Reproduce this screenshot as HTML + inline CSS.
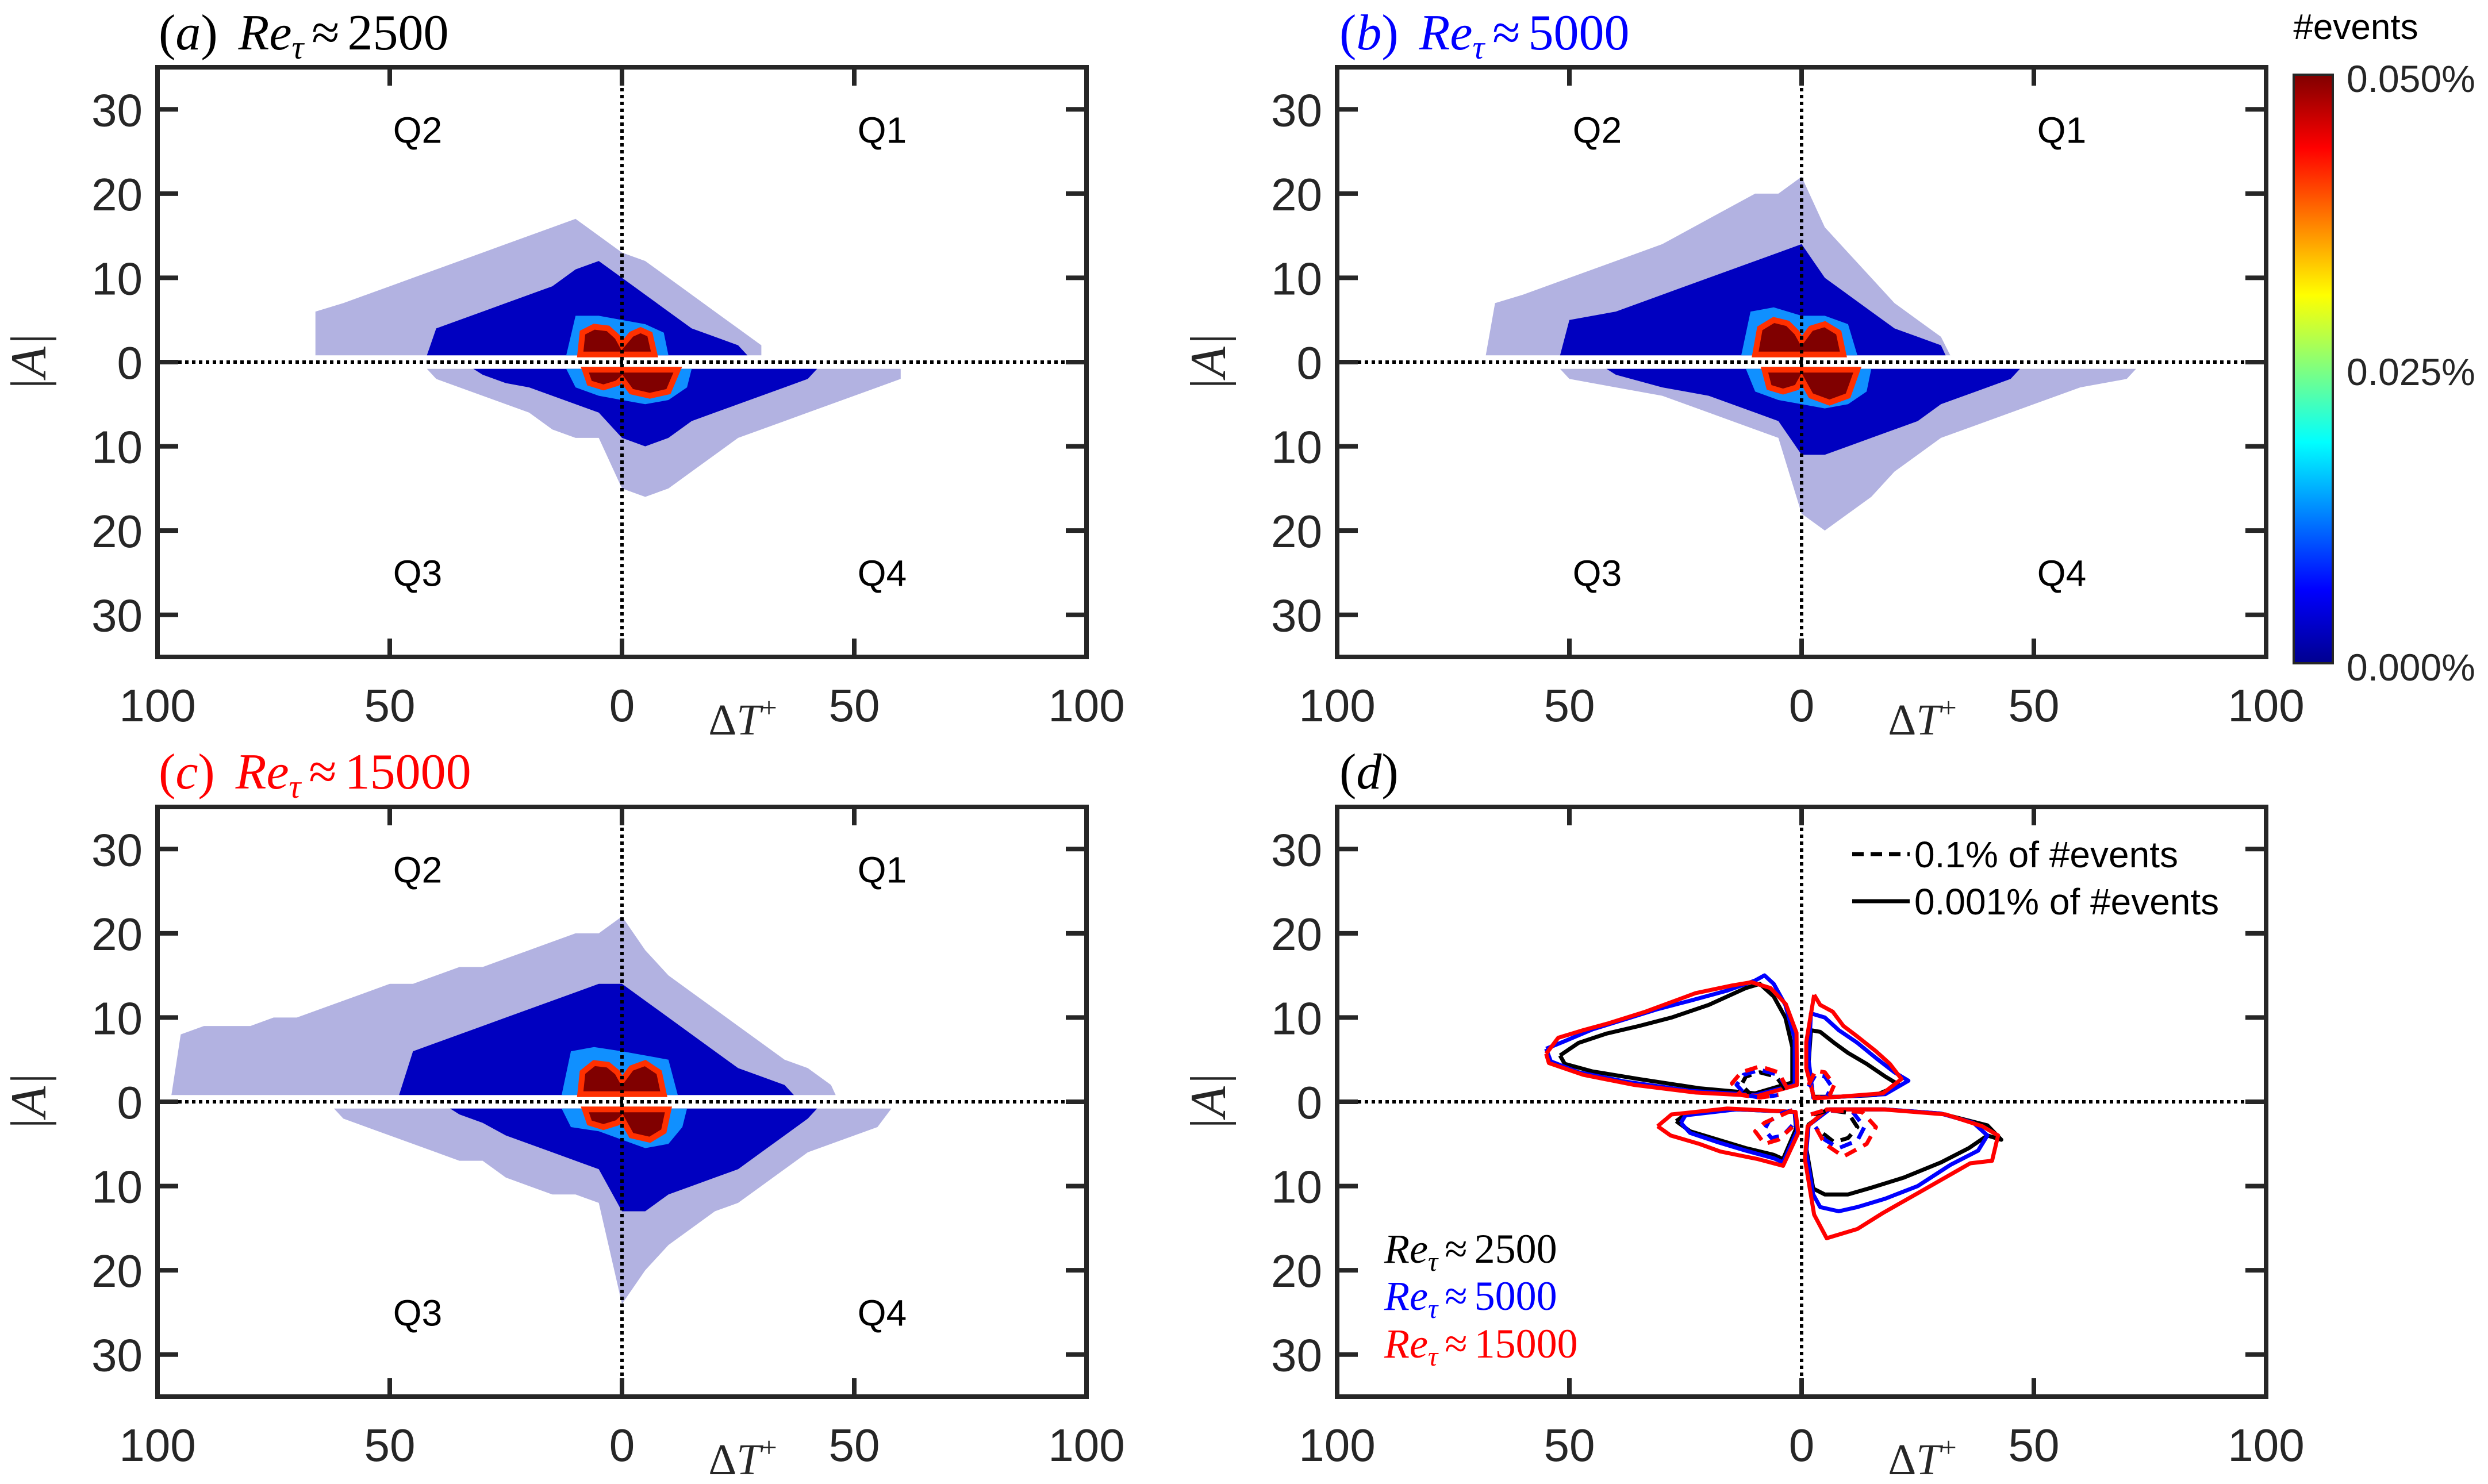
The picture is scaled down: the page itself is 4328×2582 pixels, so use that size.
<!DOCTYPE html>
<html><head><meta charset="utf-8">
<style>
html,body{margin:0;padding:0;background:#fff;}
svg{display:block;}
</style></head>
<body>
<svg id="fig" width="4328" height="2582" viewBox="0 0 4328 2582" xmlns="http://www.w3.org/2000/svg">
<defs>
<linearGradient id="jet" x1="0" y1="1" x2="0" y2="0">
<stop offset="0" stop-color="#00008f"/><stop offset="0.125" stop-color="#0000ff"/>
<stop offset="0.375" stop-color="#00ffff"/><stop offset="0.625" stop-color="#ffff00"/>
<stop offset="0.875" stop-color="#ff0000"/><stop offset="1" stop-color="#800000"/>
</linearGradient>
</defs>
<g id="layer"></g>
<g>
<rect x="3990" y="130" width="68" height="1024" fill="url(#jet)" stroke="#262626" stroke-width="4"/>
<text x="4098" y="68" font-family="Liberation Sans, sans-serif" font-size="62" text-anchor="middle" fill="#000">#events</text>
<text x="4082" y="160" font-family="Liberation Sans, sans-serif" font-size="66" fill="#262626">0.050%</text>
<text x="4082" y="670" font-family="Liberation Sans, sans-serif" font-size="66" fill="#262626">0.025%</text>
<text x="4082" y="1184" font-family="Liberation Sans, sans-serif" font-size="66" fill="#262626">0.000%</text>
</g>
</svg>
<script>
// ---- data (ΔT signed: negative = left; A signed: positive = upper) ----
const xTicks = [-100,-50,0,50,100];
const xTickLabels = ["100","50","0","50","100"];
const yTicks = [30,20,10,0,-10,-20,-30];
const yTickLabels = ["30","20","10","0","10","20","30"];

const aUpSparse = [[-66,0.8],[-66,6],[-60,7],[-55,8],[-50,9],[-45,10],[-40,11],[-35,12],[-30,13],[-25,14],[-20,15],[-15,16],[-10,17],[-5,15],[0,13],[5,12],[10,10],[15,8],[20,6],[25,4],[30,2],[30,0.8]];
const aUpDense = [[-42,0.8],[-40,4],[-35,5],[-30,6],[-25,7],[-20,8],[-15,9],[-10,11],[-5,12],[0,10],[5,8],[10,6],[15,4],[20,3],[25,2],[27,0.8]];
const aUpMid = [[-12,0.8],[-10,5.5],[-5,5.5],[0,5],[5,4.5],[9,3.5],[10,0.8]];
const aUpCore = [[-9,0.9],[-8.5,3.5],[-6,4.2],[-3,4],[-1,3],[0,2],[2,3.3],[4,3.8],[6,3.3],[7,0.9]];
const aLoSparse = [[-42,-0.8],[-40,-2],[-35,-3],[-30,-4],[-25,-5],[-20,-6],[-15,-8],[-10,-9],[-5,-9],[0,-15],[5,-16],[10,-15],[15,-13],[20,-11],[25,-9],[30,-8],[35,-7],[40,-6],[45,-5],[50,-4],[55,-3],[60,-2],[60,-0.8]];
const aLoDense = [[-32,-0.8],[-30,-1.5],[-25,-2.5],[-20,-3],[-15,-4],[-10,-5],[-5,-6],[0,-9],[5,-10],[10,-9],[15,-7],[20,-6],[25,-5],[30,-4],[35,-3],[40,-2],[42,-0.8]];
const aLoMid = [[-12,-0.8],[-10,-3],[-5,-4],[0,-4.5],[5,-5],[10,-4.5],[14,-3],[15,-0.8]];
const aLoCore = [[-8,-0.9],[-7,-2.5],[-4,-3],[-1,-2.5],[0,-2],[2,-3.5],[6,-4],[10,-3.5],[12,-0.9]];

const bUpSparse = [[-68,0.8],[-66,7],[-60,8],[-50,10],[-40,12],[-30,14],[-20,17],[-10,20],[-5,20],[0,22],[5,16],[10,13],[15,10],[20,7],[25,5],[30,3],[32,0.8]];
const bUpDense = [[-52,0.8],[-50,5],[-40,6],[-30,8],[-20,10],[-15,11],[-10,12],[-5,13],[0,14],[5,10],[10,8],[15,6],[20,4],[25,3],[30,2],[31,0.8]];
const bUpMid = [[-13,0.8],[-11,6],[-6,6.5],[0,5.5],[5,5.5],[10,4.5],[12,0.8]];
const bUpCore = [[-10,0.9],[-9,4],[-6,5],[-3,4.6],[-1,3.5],[0,2.5],[2,4],[5,4.5],[8,3.5],[9,0.9]];
const bLoSparse = [[-52,-0.8],[-50,-2],[-40,-3],[-30,-4],[-20,-6],[-10,-8],[-5,-9],[0,-18],[5,-20],[10,-18],[15,-16],[20,-13],[25,-11],[30,-9],[40,-7],[50,-5],[60,-3],[70,-2],[72,-0.8]];
const bLoDense = [[-42,-0.8],[-40,-1.5],[-30,-3],[-20,-4],[-10,-6],[-5,-7],[0,-11],[5,-11],[10,-10],[15,-9],[20,-8],[25,-7],[30,-5],[35,-4],[40,-3],[45,-2],[47,-0.8]];
const bLoMid = [[-12,-0.8],[-10,-3.5],[-5,-4.5],[0,-5],[5,-5.5],[10,-5],[14,-3.5],[15,-0.8]];
const bLoCore = [[-8,-0.9],[-7,-3],[-4,-3.5],[-1,-3],[0,-2],[2,-4],[6,-4.8],[10,-4],[12,-0.9]];

const cUpSparse = [[-97,0.8],[-95,8],[-90,9],[-80,9],[-75,10],[-70,10],[-65,11],[-60,12],[-55,13],[-50,14],[-45,14],[-40,15],[-35,16],[-30,16],[-25,17],[-20,18],[-15,19],[-10,20],[-5,20],[0,22],[5,18],[10,15],[15,13],[20,11],[25,9],[30,7],[35,5],[40,4],[45,2],[46,0.8]];
const cUpDense = [[-48,0.8],[-45,6],[-40,7],[-35,8],[-30,9],[-25,10],[-20,11],[-15,12],[-10,13],[-5,14],[0,14],[5,12],[10,10],[15,8],[20,6],[25,4],[30,3],[35,2],[37,0.8]];
const cUpMid = [[-13,0.8],[-11,6],[-6,6.5],[0,6],[5,5.5],[10,5],[12,0.8]];
const cUpCore = [[-9,0.9],[-8.5,3.5],[-6,4.6],[-3,4.4],[-1,3.5],[0,2.5],[2,4],[5,4.6],[8,3.5],[9,0.9]];
const cLoSparse = [[-62,-0.8],[-60,-2],[-55,-3],[-50,-4],[-45,-5],[-40,-6],[-35,-7],[-30,-7],[-25,-9],[-20,-10],[-15,-11],[-10,-11],[-5,-12],[0,-24],[5,-20],[10,-17],[15,-15],[20,-13],[25,-12],[30,-10],[35,-8],[40,-6],[45,-5],[50,-4],[55,-3],[58,-0.8]];
const cLoDense = [[-37,-0.8],[-35,-1.5],[-30,-2.5],[-25,-4],[-20,-5],[-15,-6],[-10,-7],[-5,-8],[0,-13],[5,-13],[10,-11],[15,-10],[20,-9],[25,-8],[30,-6],[35,-4],[40,-2],[42,-0.8]];
const cLoMid = [[-13,-0.8],[-11,-3],[-5,-3.5],[0,-4.5],[5,-5.5],[10,-5],[13,-3],[14,-0.8]];
const cLoCore = [[-8,-0.9],[-7,-2.5],[-4,-3],[-1,-2.5],[0,-2],[2,-4],[6,-4.5],[9,-3.5],[10,-0.9]];

// panel (d) contours
const redUL = [[-55,5.7],[-52.4,7.6],[-47,8.5],[-41.7,9.3],[-33.6,10.7],[-22.8,12.9],[-15,13.8],[-10.8,14.2],[-6.7,13.5],[-3.4,11.6],[-1.1,8.2],[-1,2],[-9.4,0.7],[-22.8,1.1],[-36,2],[-47,3.2],[-54.4,4.6],[-55,5.7]];
const blueUL = [[-55,6.3],[-51,7.2],[-45,8.6],[-38,9.8],[-31,11],[-24,12],[-16,13.2],[-10,14.4],[-8,15],[-6,14],[-3.5,11.5],[-1.5,7.5],[-1.5,2],[-10,0.8],[-24,1.3],[-38,2.4],[-48,3.5],[-54,4.8],[-55,6.3]];
const blackUL = [[-52,5.5],[-48,7],[-42,8.1],[-35,9],[-28,10],[-20,11.5],[-12,13.5],[-9,14],[-6,12.5],[-3.5,10],[-2,6.5],[-2,2.3],[-10,1],[-22,1.6],[-35,2.7],[-45,3.6],[-51,4.5],[-52,5.5]];
const redUR = [[2.7,12.7],[4,11.5],[6.7,10.7],[9,9],[12.1,7.7],[16,6],[19,4.5],[21.5,2.7],[17.5,1],[8,0.6],[2.7,0.4],[1,4],[1,7.1],[2.7,12.7]];
const blueUR = [[2,10.5],[5,10],[8,8.5],[12,7],[16,5.2],[20,3.5],[23,2.5],[18,0.9],[8,0.6],[2.5,0.5],[1.5,5],[2,10.5]];
const blackUR = [[2,8.5],[4,8.3],[7,7],[10,5.8],[14,4.5],[18,3],[21,2],[16,0.8],[8,0.6],[2.5,0.6],[1.5,4.5],[2,8.5]];
const redLL = [[-31,-2.9],[-28.2,-4],[-22,-5],[-17.5,-5.9],[-9.4,-6.8],[-4,-7.6],[-0.7,-3.7],[-1.3,-1.2],[-16,-0.8],[-28,-1.5],[-31,-2.9]];
const blueLL = [[-26,-2.5],[-24,-3.7],[-18,-4.8],[-12,-5.8],[-6,-6.7],[-4,-7.2],[-1,-3.5],[-1.5,-1.2],[-14,-0.9],[-25,-1.6],[-26,-2.5]];
const blackLL = [[-27,-2.3],[-24,-3.5],[-18,-4.5],[-12,-5.5],[-6,-6.3],[-4,-6.8],[-1.2,-3.2],[-1.5,-1.2],[-14,-0.9],[-25,-1.5],[-27,-2.3]];
const redLR = [[0.7,-6.8],[2.7,-13.4],[5.4,-16.2],[12,-15.1],[17.5,-13.2],[25.5,-10.7],[36.3,-7.3],[41,-7],[42.3,-4],[38.9,-2.9],[31,-1.5],[17.5,-0.9],[5.4,-0.9],[1.3,-2.9],[0.7,-6.8]];
const blueLR = [[1,-6],[2.5,-11],[4,-12.5],[8,-13],[12,-12.5],[18,-11.5],[25,-10],[32,-7.5],[38,-5.8],[40,-4],[37,-2.5],[30,-1.4],[18,-0.9],[6,-0.9],[1.5,-2.8],[1,-6]];
const blackLR = [[1,-5.5],[2.5,-10.3],[5,-11],[10,-11],[15,-10.2],[22,-9],[30,-7.2],[36,-5.5],[40,-4],[43,-4.5],[40,-2.8],[30,-1.4],[18,-0.9],[6,-0.9],[1.5,-2.7],[1,-5.5]];
const redDUL = [[-3,1.5],[-5,3.5],[-9,4.2],[-13,3.5],[-15,2.2],[-13,0.8],[-9,0.5],[-5,0.8]];
const blueDUL = [[-3,1.5],[-5,3.2],[-9,3.8],[-12.5,3.2],[-14,2],[-12,0.8],[-9,0.5],[-5,0.8]];
const blackDUL = [[-3.5,1.5],[-5.5,3],[-9,3.5],[-12,3],[-13,2],[-11,0.9]];
const redDUR = [[1.5,2],[3,3.7],[5,3.5],[7,2],[6,0.7],[3,0.5]];
const blueDUR = [[1.5,1.8],[3,3.2],[5,3],[6.5,1.8],[5.5,0.7]];
const redDLL = [[-2,-1],[-4,-1.5],[-8,-2.5],[-10,-3.5],[-8,-5],[-5,-4.5],[-2,-3]];
const blueDLL = [[-2,-1],[-4,-1.3],[-7,-2.3],[-8,-3.3],[-6.5,-4.3],[-4,-4],[-2,-2.8]];
const redDLR = [[2,-1.5],[5,-1],[13,-1.2],[16,-3],[14,-5],[9,-6.5],[5,-5],[3,-3]];
const blueDLR = [[2,-1.5],[5,-1],[11,-1.2],[13.5,-3],[12,-4.6],[8,-5.5],[5,-4.5],[3,-3]];
const blackDLR = [[2.5,-1.5],[6,-1],[10,-1.3],[12,-3],[10,-4.3],[7,-4.8],[4,-3.5]];

const NS = "http://www.w3.org/2000/svg";
const layer = document.getElementById("layer");
const panels = [
 {id:"a", L:274, R:1890, T:117, B:1143},
 {id:"b", L:2326, R:3942, T:117, B:1143},
 {id:"c", L:274, R:1890, T:1404, B:2430},
 {id:"d", L:2326, R:3942, T:1404, B:2430}
];
function sx(p, v){ return p.L + (v + 100) / 200 * (p.R - p.L); }
function sy(p, v){ return p.B - (v + 35) / 70 * (p.B - p.T); }
function mk(tag, attrs, parent){
  const e = document.createElementNS(NS, tag);
  for (const k in attrs) e.setAttribute(k, attrs[k]);
  (parent || layer).appendChild(e);
  return e;
}
function pts(p, arr){ return arr.map(d => sx(p,d[0]).toFixed(1)+","+sy(p,d[1]).toFixed(1)).join(" "); }

function drawHeat(p, g, arr, fill, opacity, name){
  const e = mk("polygon", {points: pts(p, arr), fill: fill, "fill-opacity": opacity}, g);
  
  
  return e;
}
function drawLine(p, g, arr, color, dashed, name){
  const e = mk("polyline", {points: pts(p, arr), fill: "none", stroke: color, "stroke-width": 7, "stroke-linejoin":"round", "stroke-dasharray": dashed ? "22 14" : "none"}, g);
  
  
}

const heatData = {
 a:[aUpSparse,aUpDense,aUpMid,aUpCore,aLoSparse,aLoDense,aLoMid,aLoCore],
 b:[bUpSparse,bUpDense,bUpMid,bUpCore,bLoSparse,bLoDense,bLoMid,bLoCore],
 c:[cUpSparse,cUpDense,cUpMid,cUpCore,cLoSparse,cLoDense,cLoMid,cLoCore]
};

panels.forEach(p => {
  const g = mk("g", {});
  
  
  const W = p.R - p.L, H = p.B - p.T;
  const pl = mk("rect", {x:p.L, y:p.T, width:W, height:H, fill:"#fff"}, g);
  
  

  if (heatData[p.id]) {
    const hd = heatData[p.id];
    const hg = mk("g", {}, g);
    
    
    [0,4].forEach(o => {
      drawHeat(p, hg, hd[o], "#00009a", 0.3, "sparse-region");
      drawHeat(p, hg, hd[o+1], "#0000c0", 1, "dense-region");
      drawHeat(p, hg, hd[o+2], "#1090ff", 1, "mid-region");
      const c = drawHeat(p, hg, hd[o+3], "#800000", 1, "core-region");
      c.setAttribute("stroke", "#ff3000");
      c.setAttribute("stroke-width", "10");
    });
  } else {
    const cg = mk("g", {}, g);
    
    
    const solid = [[blackUL,"#000"],[blackUR,"#000"],[blackLL,"#000"],[blackLR,"#000"],
                   [blueUL,"#0000ff"],[blueUR,"#0000ff"],[blueLL,"#0000ff"],[blueLR,"#0000ff"],
                   [redUL,"#ff0000"],[redUR,"#ff0000"],[redLL,"#ff0000"],[redLR,"#ff0000"]];
    solid.forEach(s => drawLine(p, cg, s[0], s[1], false, "contour-solid"));
    const dashed = [[blackDUL,"#000"],[blackDLR,"#000"],[blueDUL,"#0000ff"],[blueDUR,"#0000ff"],[blueDLL,"#0000ff"],[blueDLR,"#0000ff"],
                    [redDUL,"#ff0000"],[redDUR,"#ff0000"],[redDLL,"#ff0000"],[redDLR,"#ff0000"]];
    dashed.forEach(s => drawLine(p, cg, s[0], s[1], true, "contour-dashed"));
  }

  const zx = mk("line", {x1:sx(p,0), x2:sx(p,0), y1:p.T, y2:p.B, stroke:"#000", "stroke-width":6, "stroke-dasharray":"6 6"}, g);
  
  
  const zy = mk("line", {x1:p.L, x2:p.R, y1:sy(p,0), y2:sy(p,0), stroke:"#000", "stroke-width":6, "stroke-dasharray":"6 6"}, g);
  
  

  const fr = mk("rect", {x:p.L, y:p.T, width:W, height:H, fill:"none", stroke:"#262626", "stroke-width":8}, g);
  
  

  xTicks.forEach((v,i) => {
    const x = sx(p,v);
    const t1 = mk("line", {x1:x, x2:x, y1:p.B, y2:p.B-32, stroke:"#262626", "stroke-width":8}, g);
    
    
    const t2 = mk("line", {x1:x, x2:x, y1:p.T, y2:p.T+32, stroke:"#262626", "stroke-width":8}, g);
    
    
    const tl = mk("text", {x:x, y:p.B+112, "text-anchor":"middle", "font-family":"Liberation Sans, sans-serif", "font-size":80, fill:"#262626"}, g);
    tl.textContent = xTickLabels[i];
    
    
  });
  yTicks.forEach((v,i) => {
    const y = sy(p,v);
    const t1 = mk("line", {x1:p.L, x2:p.L+36, y1:y, y2:y, stroke:"#262626", "stroke-width":8}, g);
    
    
    const t2 = mk("line", {x1:p.R, x2:p.R-36, y1:y, y2:y, stroke:"#262626", "stroke-width":8}, g);
    
    
    const tl = mk("text", {x:p.L-26, y:y+29, "text-anchor":"end", "font-family":"Liberation Sans, sans-serif", "font-size":80, fill:"#262626"}, g);
    tl.textContent = yTickLabels[i];
    
    
  });

  const xt = mk("text", {x:sx(p,0)+210, y:p.B+135, "text-anchor":"middle", "font-family":"Liberation Serif, serif", "font-size":76, fill:"#262626"}, g);
  xt.innerHTML = 'Δ<tspan font-style="italic">T</tspan><tspan font-size="50" dy="-30">+</tspan>';
  
  
  const yt = mk("text", {x:0, y:0, transform:`translate(${p.L-195},${sy(p,0)}) rotate(-90)`, "text-anchor":"middle", "font-family":"Liberation Serif, serif", "font-size":88, "font-style":"italic", fill:"#262626"}, g);
  yt.textContent = "|A|";
  
  

  if (p.id !== "d") {
    [["Q2",-44,27.6],["Q1",56,27.6],["Q3",-44,-25],["Q4",56,-25]].forEach(q => {
      const ql = mk("text", {x:sx(p,q[1]), y:sy(p,q[2])+23, "text-anchor":"middle", "font-family":"Liberation Sans, sans-serif", "font-size":64, fill:"#000"}, g);
      ql.textContent = q[0];
      
      
    });
  }
});

const titles = [
 {x:276, y:86, c:"#000", lab:"a", v:"2500"},
 {x:2330, y:86, c:"#0000ff", lab:"b", v:"5000"},
 {x:276, y:1372, c:"#ff0000", lab:"c", v:"15000"}
];
titles.forEach(t => {
  const e = mk("text", {x:t.x, y:t.y, "font-family":"Liberation Serif, serif", "font-size":88, fill:t.c});
  e.innerHTML = `(<tspan font-style="italic">${t.lab}</tspan>) <tspan dx="14" font-style="italic">Re</tspan><tspan font-style="italic" font-size="58" dy="16">τ</tspan><tspan dy="-16" dx="14">≈</tspan><tspan dx="14">${t.v}</tspan>`;
  
  
});
const td = mk("text", {x:2330, y:1372, "font-family":"Liberation Serif, serif", "font-size":88, fill:"#000"});
td.innerHTML = '(<tspan font-style="italic">d</tspan>)';



const lg = mk("g", {});


const l1 = mk("line", {x1:3222, x2:3322, y1:1486, y2:1486, stroke:"#000", "stroke-width":7, "stroke-dasharray":"20 12"}, lg);


const t1 = mk("text", {x:3330, y:1509, "font-family":"Liberation Sans, sans-serif", "font-size":64, fill:"#000"}, lg);
t1.textContent = "0.1% of #events";


const l2 = mk("line", {x1:3222, x2:3322, y1:1568, y2:1568, stroke:"#000", "stroke-width":7}, lg);


const t2 = mk("text", {x:3330, y:1591, "font-family":"Liberation Sans, sans-serif", "font-size":64, fill:"#000"}, lg);
t2.textContent = "0.001% of #events";


[["2500","#000",2197],["5000","#0000ff",2279],["15000","#ff0000",2362]].forEach(r => {
  const e = mk("text", {x:2408, y:r[2], "font-family":"Liberation Serif, serif", "font-size":72, fill:r[1]}, lg);
  e.innerHTML = `<tspan font-style="italic">Re</tspan><tspan font-style="italic" font-size="48" dy="14">τ</tspan><tspan dy="-14" dx="12">≈</tspan><tspan dx="12">${r[0]}</tspan>`;
  
  
});
</script>
</body></html>
